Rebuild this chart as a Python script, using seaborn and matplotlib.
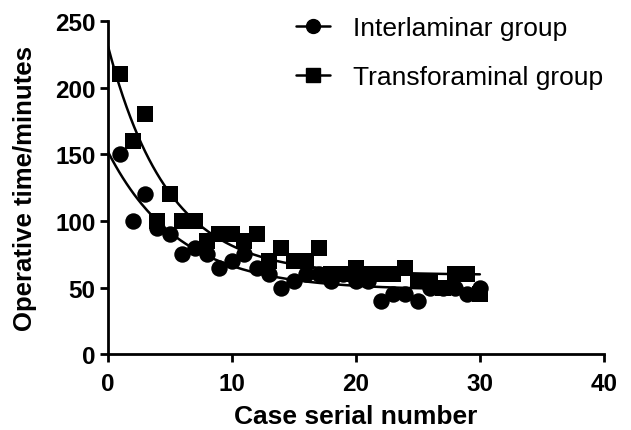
import numpy as np
import pandas as pd
import matplotlib
matplotlib.use("Agg")
import matplotlib.pyplot as plt
from matplotlib.lines import Line2D
import seaborn as sns

# Case numbers and operative time (minutes)
cases = list(range(1, 31))
interlaminar = [150, 100, 120, 95, 90, 75, 80, 75, 65, 70,
                75, 65, 60, 50, 55, 60, 60, 55, 60, 55,
                55, 40, 45, 45, 40, 50, 50, 50, 45, 50]
transforaminal = [210, 160, 180, 100, 120, 100, 100, 85, 90, 90,
                  85, 90, 70, 80, 70, 70, 80, 60, 60, 65,
                  60, 60, 60, 65, 55, 55, 50, 60, 60, 45]
groups = ["Interlaminar group", "Transforaminal group"]

df = pd.DataFrame({
    "case": cases * 2,
    "time": interlaminar + transforaminal,
    "group": [groups[0]] * 30 + [groups[1]] * 30,
})


def one_phase_decay(x, y):
    # y = plateau + span * exp(-k x), grid search over k, least squares for the rest
    x = np.asarray(x, float)
    y = np.asarray(y, float)
    best = None
    for k in np.linspace(0.01, 1.0, 2000):
        A = np.column_stack([np.ones_like(x), np.exp(-k * x)])
        coef, *_ = np.linalg.lstsq(A, y, rcond=None)
        err = np.sum((A @ coef - y) ** 2)
        if best is None or err < best[0]:
            best = (err, k, coef)
    _, k, (plateau, span) = best
    return lambda t: plateau + span * np.exp(-k * t)


sns.set_style("ticks")
plt.rcParams["font.family"] = ["Liberation Sans", "DejaVu Sans"]
plt.rcParams.update({
    "text.color": "black",
    "axes.labelcolor": "black",
    "axes.edgecolor": "black",
    "xtick.color": "black",
    "ytick.color": "black",
})

fig = plt.figure(figsize=(6.31, 4.31), dpi=100)
ax = fig.add_axes([0.171, 0.176, 0.786, 0.773])

xs = np.linspace(0, 30, 200)
markers = {groups[0]: "o", groups[1]: "s"}
for g, vals in zip(groups, [interlaminar, transforaminal]):
    f = one_phase_decay(cases, vals)
    sns.lineplot(x=xs, y=f(xs), color="black", linewidth=1.8, ax=ax)
    sns.scatterplot(data=df[df["group"] == g], x="case", y="time",
                    marker=markers[g], color="black", s=140,
                    edgecolor="black", linewidth=0, ax=ax, zorder=3)

ax.set_xlim(0, 40)
ax.set_ylim(0, 250)
ax.set_xticks([0, 10, 20, 30, 40])
ax.set_yticks([0, 50, 100, 150, 200, 250])
ax.set_xlabel("Case serial number", fontsize=19, fontweight="bold", labelpad=6)
ax.set_ylabel("Operative time/minutes", fontsize=18.5, fontweight="bold", labelpad=13)
for lab in ax.get_xticklabels() + ax.get_yticklabels():
    lab.set_fontweight("bold")
ax.tick_params(axis="both", labelsize=17.5, width=2, length=6, direction="out", pad=3)
ax.tick_params(axis="x", pad=7)
for side in ["left", "bottom"]:
    ax.spines[side].set_linewidth(2)
sns.despine(ax=ax)

handles = [
    Line2D([], [], color="black", marker="o", markersize=10, linewidth=1.8),
    Line2D([], [], color="black", marker="s", markersize=10, linewidth=1.8),
]
fig.legend(handles, groups, loc="upper left", bbox_to_anchor=(0.469, 0.96),
           frameon=False, fontsize=19, labelspacing=0.95, handlelength=1.3,
           handletextpad=0.85, borderpad=0, borderaxespad=0)

fig.savefig("out.png", dpi=100)
